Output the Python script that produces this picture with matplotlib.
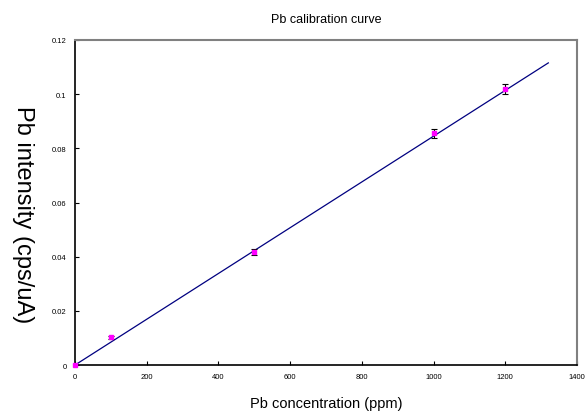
import matplotlib.pyplot as plt
import numpy as np

# data
conc = [0, 100, 500, 1000, 1200]
intensity = [0.0, 0.0102, 0.0418, 0.0855, 0.1019]
err = [0.0003, 0.0006, 0.0011, 0.0016, 0.0017]
fit_x = [0, 1320]
fit_slope = 0.0000845

plt.rcParams['font.family'] = ['Liberation Sans', 'DejaVu Sans']

fig = plt.figure(figsize=(5.88, 4.14), dpi=100)
ax = fig.add_axes([0.1276, 0.1159, 0.8537, 0.7851])

fx = np.array(fit_x)
ax.plot(fx, fit_slope * fx, color='#000080', lw=0.9, zorder=2)
ax.errorbar(conc, intensity, yerr=err, fmt='none', ecolor='black',
            elinewidth=0.8, capsize=2, capthick=0.8, zorder=3)
ax.plot(conc, intensity, 's', color='#FF00FF', markersize=3.5, zorder=4,
        clip_on=False)

ax.set_xlim(0, 1400)
ax.set_ylim(0, 0.12)
ax.set_xticks(range(0, 1401, 200))
ax.set_yticks([0, 0.02, 0.04, 0.06, 0.08, 0.1, 0.12])
ax.set_yticklabels(['0', '0.02', '0.04', '0.06', '0.08', '0.1', '0.12'])
ax.tick_params(direction='in', length=3, width=0.8, labelsize=5.5, pad=6)

for s in ['left', 'bottom']:
    ax.spines[s].set_color('black')
    ax.spines[s].set_linewidth(1.2)
for s in ['top', 'right']:
    ax.spines[s].set_color('#808080')
    ax.spines[s].set_linewidth(1.5)

ax.set_title('Pb calibration curve', fontsize=9, pad=13)
ax.set_xlabel('Pb concentration (ppm)', fontsize=10.5, labelpad=11)
ax.set_ylabel('Pb intensity (cps/uA)', fontsize=17, rotation=-90, va='center')
ax.yaxis.set_label_coords(-0.103, 0.465)

fig.savefig('out.png', dpi=100)
